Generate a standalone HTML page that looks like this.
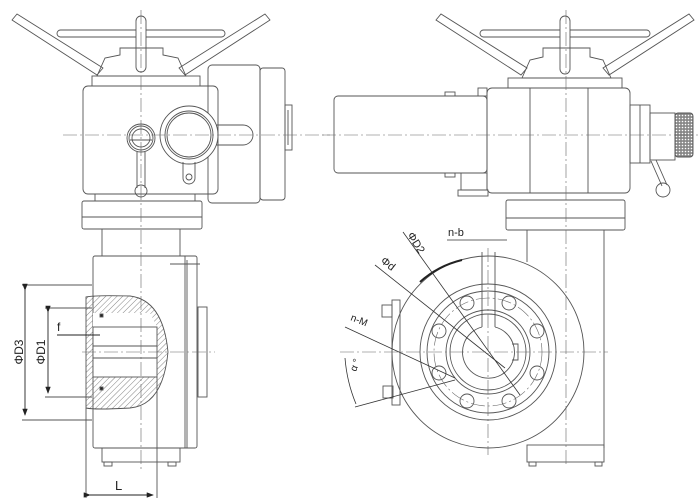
<!DOCTYPE html>
<html><head><meta charset="utf-8"><style>
html,body{margin:0;padding:0;background:#fff}
svg{display:block}
text{font-family:"Liberation Sans",sans-serif;fill:#222}
</style></head><body>
<svg width="698" height="504" viewBox="0 0 698 504" xmlns="http://www.w3.org/2000/svg">
<defs>
<pattern id="h" width="4" height="4" patternUnits="userSpaceOnUse" patternTransform="rotate(45)">
<line x1="0" y1="0" x2="0" y2="4" stroke="#666" stroke-width="0.8"/></pattern>
<pattern id="k" width="3" height="3" patternUnits="userSpaceOnUse">
<rect width="3" height="3" fill="#888"/><circle cx="1.5" cy="1.5" r="0.8" fill="#fff"/></pattern>
<marker id="a" markerWidth="8" markerHeight="6" refX="7" refY="3" orient="auto"><path d="M0,0 L8,3 L0,6z" fill="#222"/></marker>
</defs>
<g fill="none" stroke="#555" stroke-width="0.9">
<!-- ===== LEFT VIEW ===== -->
<rect x="57" y="30" width="168" height="7" rx="3.5"/>
<path d="M12,20 L17,14 L103,68 L97,75 Z" stroke-linejoin="round"/>
<path d="M270,20 L265,14 L179,68 L185,75 Z" stroke-linejoin="round"/>
<rect x="136" y="16" width="10" height="56" rx="5" fill="#fff"/>
<path d="M97,76 L105,58 L120,55 L120,48 L163,48 L163,55 L178,58 L186,76 Z"/>
<rect x="92" y="76" width="108" height="10"/>
<rect x="83" y="86" width="135" height="108" rx="5"/>
<rect x="208" y="65" width="52" height="138" rx="4"/>
<rect x="260" y="68" width="25" height="132" rx="3"/>
<rect x="285" y="105" width="7" height="45"/>
<line x1="288" y1="110" x2="288" y2="145"/>
<circle cx="141" cy="138" r="14"/><circle cx="141" cy="138" r="12"/><circle cx="141" cy="138" r="9"/>
<line x1="130" y1="140" x2="152" y2="140"/>
<path d="M137,152 L137,188 M145,152 L145,188"/>
<circle cx="141" cy="191" r="6"/>
<path d="M210,125 L243,125 A10,10 0 0 1 243,145 L210,145"/>
<circle cx="189" cy="135" r="29" fill="#fff"/>
<circle cx="189" cy="135" r="24"/><circle cx="189" cy="135" r="22"/>
<path d="M183,162 L183,178 A6,6 0 0 0 195,178 L195,162"/>
<circle cx="189" cy="177" r="3"/>
<rect x="95" y="194" width="100" height="7"/>
<rect x="82" y="201" width="120" height="28" rx="2"/>
<line x1="82" y1="217" x2="202" y2="217"/>
<path d="M102,229 L102,256 M180,229 L180,256"/>
<rect x="93" y="256" width="104" height="192" rx="2"/>
<line x1="185" y1="256" x2="185" y2="448"/><line x1="187" y1="260" x2="187" y2="448"/>
<line x1="170" y1="264" x2="200" y2="264"/>
<rect x="198" y="307" width="9" height="90"/>
<rect x="102" y="448" width="78" height="14"/>
<rect x="104" y="462" width="8" height="4"/><rect x="168" y="462" width="8" height="4"/>
<path d="M86,297 Q95,295 130,296 Q163,300 168,352 Q163,405 130,408 Q95,410 86,408 Z" fill="url(#h)"/>
<path d="M93,313 L150,313 L157,327 L93,327 Z" fill="#fff" stroke="none"/>
<rect x="93" y="327" width="64" height="50" fill="#fff"/>
<line x1="93" y1="346" x2="157" y2="346"/><line x1="93" y1="358" x2="157" y2="358"/>
<rect x="100" y="314" width="3" height="3" fill="#222"/><rect x="100" y="387" width="3" height="3" fill="#222"/>
<path d="M22,285 L92,285 M22,420 L92,420 M45,308 L92,308 M45,397 L92,397"/>
<line x1="25" y1="290" x2="25" y2="415" stroke="#222" marker-start="url(#a)" marker-end="url(#a)"/>
<line x1="48" y1="312" x2="48" y2="393" stroke="#222" marker-start="url(#a)" marker-end="url(#a)"/>
<line x1="57" y1="335" x2="100" y2="335" stroke="#222"/>
<path d="M86,408 L86,498 M157,377 L157,498"/>
<line x1="90" y1="495" x2="153" y2="495" stroke="#222" marker-start="url(#a)" marker-end="url(#a)"/>
<!-- ===== RIGHT VIEW ===== -->
<rect x="480" y="30" width="170" height="7" rx="3.5"/>
<path d="M436,20 L441,14 L527,68 L521,75 Z"/>
<path d="M694,20 L689,14 L603,68 L609,75 Z"/>
<rect x="560" y="16" width="10" height="58" rx="5" fill="#fff"/>
<path d="M522,78 L530,60 L543,57 L543,48 L590,48 L590,57 L603,60 L611,78 Z"/>
<rect x="508" y="78" width="114" height="10"/>
<rect x="487" y="88" width="143" height="105" rx="5"/>
<line x1="530" y1="88" x2="530" y2="193"/><line x1="588" y1="88" x2="588" y2="193"/>
<rect x="334" y="96" width="153" height="77" rx="4"/>
<rect x="478" y="88" width="9" height="8"/>
<rect x="445" y="92" width="10" height="4"/><rect x="445" y="173" width="10" height="4"/>
<rect x="461" y="173" width="26" height="17"/><rect x="458" y="190" width="30" height="6"/>
<rect x="630" y="105" width="20" height="58"/>
<line x1="640" y1="105" x2="640" y2="163"/>
<rect x="650" y="113" width="25" height="47"/>
<rect x="675" y="113" width="18" height="44" rx="3" fill="url(#k)"/>
<path d="M651,161 L662,186 M656,160 L667,185"/>
<circle cx="663" cy="190" r="7"/>
<rect x="506" y="200" width="119" height="30" rx="2"/>
<line x1="506" y1="218" x2="625" y2="218"/>
<path d="M527,230 L527,262 M604,230 L604,448"/>
<rect x="527" y="445" width="77" height="17"/>
<rect x="529" y="462" width="7" height="4"/><rect x="595" y="462" width="7" height="4"/>
<circle cx="488" cy="352" r="96" fill="#fff"/>
<circle cx="488" cy="352" r="68"/>
<circle cx="488" cy="352" r="61"/>
<circle cx="488" cy="352" r="42"/>
<circle cx="488" cy="352" r="38"/>
<path d="M482,327 L482,252 M495,327 L495,252"/>
<path d="M482,327 A26,26 0 1 0 495,327"/>
<path d="M512,344 L518,344 L518,360 L512,360"/>
<g>
<circle cx="509" cy="303" r="7"/><circle cx="537" cy="331" r="7"/><circle cx="537" cy="373" r="7"/><circle cx="509" cy="401" r="7"/>
<circle cx="467" cy="401" r="7"/><circle cx="439" cy="373" r="7"/><circle cx="439" cy="331" r="7"/><circle cx="467" cy="303" r="7"/>
</g>
<rect x="392" y="300" width="8" height="105"/>
<rect x="382" y="305" width="10" height="12"/><rect x="383" y="386" width="10" height="12"/>
<path d="M420,282 A96,96 0 0 1 462,260" stroke="#222" stroke-width="2"/>
<g stroke="#333" stroke-width="0.8">
<line x1="403" y1="232" x2="520" y2="395"/>
<line x1="375" y1="265" x2="505" y2="368"/>
<line x1="345" y1="327" x2="455" y2="378"/>
<line x1="355" y1="407" x2="455" y2="380"/>
<path d="M345,358 A150,150 0 0 0 356,404"/>
<line x1="447" y1="240" x2="507" y2="240"/>
</g>
</g>
<g stroke="#666" stroke-width="0.6" stroke-dasharray="14,3,2,3" fill="none">
<line x1="141" y1="10" x2="141" y2="470"/>
<line x1="63" y1="135" x2="330" y2="135"/>
<line x1="82" y1="352" x2="215" y2="352"/>
<line x1="566" y1="10" x2="566" y2="465"/>
<line x1="322" y1="135" x2="698" y2="135"/>
<line x1="340" y1="352" x2="608" y2="352"/>
<line x1="488" y1="248" x2="488" y2="455"/>
<circle cx="488" cy="352" r="54"/>
</g>
<text x="0" y="0" font-size="12" transform="translate(23,352) rotate(-90)" text-anchor="middle">ΦD3</text>
<text x="0" y="0" font-size="12" transform="translate(45,352) rotate(-90)" text-anchor="middle">ΦD1</text>
<text x="57" y="331" font-size="12">f</text>
<text x="115" y="490" font-size="13">L</text>
<text x="448" y="236" font-size="11">n-b</text>
<text x="0" y="0" font-size="11" transform="translate(407,235) rotate(58)">ΦD2</text>
<text x="0" y="0" font-size="11" transform="translate(380,262) rotate(38)">Φd</text>
<text x="0" y="0" font-size="10" transform="translate(350,320) rotate(22)">n-M</text>
<text x="0" y="0" font-size="10" transform="translate(356,372) rotate(-70)">α °</text>
</svg>
</body></html>
